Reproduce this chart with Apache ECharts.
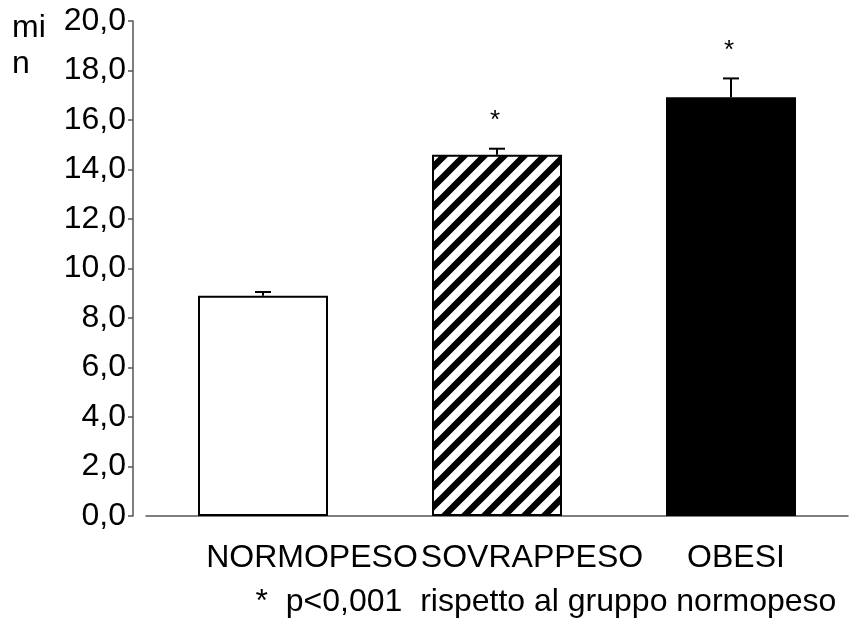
<!DOCTYPE html>
<html>
<head>
<meta charset="utf-8">
<script src="https://cdn.jsdelivr.net/npm/echarts@6/dist/echarts.min.js"></script>
<style>html,body{margin:0;padding:0;background:#fff}#c{width:861px;height:619px}</style>
</head>
<body>
<div id="c"></div>
<script>
const categories = ['NORMOPESO', 'SOVRAPPESO', 'OBESI'];
const meanValues = [8.9, 14.6, 16.92];
const errorValues = [0.15, 0.24, 0.76];
const sigMarks = ['', '*', '*'];
const yTicks = [0, 2, 4, 6, 8, 10, 12, 14, 16, 18, 20];
const footnote = '*  p<0,001  rispetto al gruppo normopeso';
const yUnit = 'mi\nn';

const FONT = 'Liberation Sans, Arial, sans-serif';

function hatch() {
  const c = document.createElement('canvas');
  c.width = 20; c.height = 20;
  const g = c.getContext('2d');
  g.fillStyle = '#fff'; g.fillRect(0, 0, 20, 20);
  g.strokeStyle = '#000'; g.lineWidth = 6.5;
  g.beginPath();
  g.moveTo(-10, 10); g.lineTo(10, -10);
  g.moveTo(-5, 25); g.lineTo(25, -5);
  g.moveTo(10, 30); g.lineTo(30, 10);
  g.stroke();
  return c;
}

const barFills = ['#ffffff', { image: hatch(), repeat: 'repeat' }, '#000000'];
const labelShift = [98, 70, 10];

const chart = echarts.init(document.getElementById('c'), null, { renderer: 'canvas' });
chart.setOption({
  animation: false,
  backgroundColor: '#fff',
  grid: { left: 146, right: 13, top: 21, bottom: 103, containLabel: false, outerBoundsMode: 'none' },
  xAxis: {
    type: 'category',
    data: categories,
    axisLine: { lineStyle: { color: '#555', width: 1.5 } },
    axisTick: { show: false },
    axisLabel: {
      margin: 26,
      formatter: function (v, i) { return '{l' + i + '|' + v + '}'; },
      rich: {
        l0: { padding: [0, 0, 0, labelShift[0]], fontSize: 32, fontFamily: FONT, color: '#000' },
        l1: { padding: [0, 0, 0, labelShift[1]], fontSize: 32, fontFamily: FONT, color: '#000' },
        l2: { padding: [0, 0, 0, labelShift[2]], fontSize: 32, fontFamily: FONT, color: '#000' }
      }
    },
    name: footnote,
    nameLocation: 'middle',
    nameGap: 70,
    nameTextStyle: { fontSize: 32, fontFamily: FONT, color: '#000', padding: [0, 0, 0, 98] }
  },
  yAxis: {
    type: 'value',
    min: yTicks[0],
    max: yTicks[yTicks.length - 1],
    interval: 2,
    offset: 13,
    splitLine: { show: false },
    axisLine: { show: true, lineStyle: { color: '#555', width: 1.5 } },
    axisTick: { show: true, length: 5, lineStyle: { color: '#555', width: 1.5 } },
    axisLabel: {
      margin: 7,
      fontSize: 32,
      fontFamily: FONT,
      color: '#000',
      formatter: function (v) { return v.toFixed(1).replace('.', ','); }
    }
  },
  graphic: [{
    type: 'text', left: 12, top: 10,
    style: { text: yUnit, font: '32px ' + FONT, lineHeight: 36, fill: '#000' }
  }],
  series: [{
    type: 'bar',
    barWidth: 130,
    data: meanValues.map(function (v, i) {
      return { value: v, itemStyle: { color: barFills[i], borderColor: '#000', borderWidth: 2 } };
    }),
    z: 2
  }, {
    type: 'custom',
    z: 3,
    data: meanValues.map(function (v, i) { return [i, v, v + errorValues[i], sigMarks[i]]; }),
    renderItem: function (params, api) {
      const base = api.coord([api.value(0), api.value(1)]);
      const top = api.coord([api.value(0), api.value(2)]);
      const mark = sigMarks[params.dataIndex];
      const x = Math.round(base[0]);
      const children = [
        { type: 'line', shape: { x1: x, y1: base[1], x2: x, y2: top[1] }, style: { stroke: '#000', lineWidth: 2 } },
        { type: 'line', shape: { x1: x - 8, y1: top[1], x2: x + 8, y2: top[1] }, style: { stroke: '#000', lineWidth: 2 } }
      ];
      if (mark) {
        children.push({
          type: 'text',
          style: { text: mark, x: x - 2, y: top[1] - 28, font: '26px ' + FONT, fill: '#000', align: 'center', verticalAlign: 'middle' }
        });
      }
      return { type: 'group', children: children };
    }
  }]
});
</script>
</body>
</html>
